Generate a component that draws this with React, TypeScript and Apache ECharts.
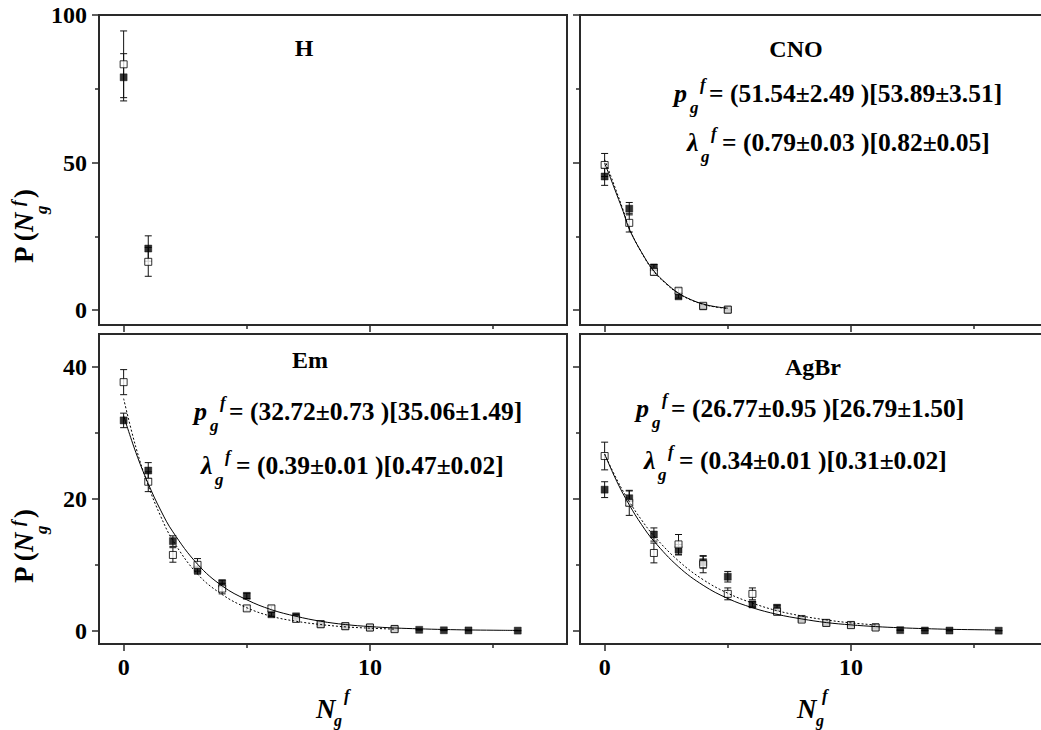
import React, { useEffect, useRef } from "react";
import * as echarts from "echarts";

const FONT = '"Liberation Serif", "Times New Roman", Times, serif';

// ---------- H ----------
const hX = [0, 1];
const hFilled = [78.9, 20.9];
const hFilledErr = [8.0, 4.3];
const hOpen = [83.3, 16.4];
const hOpenErr = [11.3, 4.9];

// ---------- CNO ----------
const cnoX = [0, 1, 2, 3, 4, 5];
const cnoFilled = [45.3, 34.4, 14.5, 4.7, 1.3, 0.2];
const cnoFilledErr = [3.0, 2.1, 1.0, 0.6, 0.3, 0.1];
const cnoOpen = [49.2, 29.6, 13.0, 6.6, 1.5, 0.2];
const cnoOpenErr = [3.9, 3.1, 1.1, 0.8, 0.3, 0.1];
const cnoFitX = [0, 0.25, 0.5, 0.75, 1, 1.5, 2, 2.5, 3, 3.5, 4, 4.5, 5];
const cnoFitSolid = [49.8, 44.5, 39.0, 33.5, 27.5, 19.6, 13.3, 9.1, 5.8, 3.6, 2.1, 1.2, 0.7];
const cnoFitDotted = [51.0, 45.5, 39.8, 34.0, 27.8, 19.5, 13.1, 8.9, 5.6, 3.5, 2.0, 1.1, 0.6];

// ---------- Em ----------
const filledX = [0, 1, 2, 3, 4, 5, 6, 7, 8, 9, 10, 11, 12, 13, 14, 16];
const openX = [0, 1, 2, 3, 4, 5, 6, 7, 8, 9, 10, 11];
const fitSolidX = [0, 0.5, 1, 1.5, 2, 3, 4, 5, 6, 7, 8, 9, 10, 11, 12, 13, 14, 15, 16];
const fitDottedX = [0, 0.5, 1, 1.5, 2, 3, 4, 5, 6, 7, 8, 9, 10, 11];

const emFilled = [31.9, 24.3, 13.6, 9.2, 7.2, 5.3, 2.5, 2.2, 1.0, 0.7, 0.5, 0.3, 0.15, 0.08, 0.06, 0.03];
const emFilledErr = [1.1, 1.2, 0.8, 0.6, 0.5, 0.4, 0.3, 0.3, 0.2, 0.2, 0.1, 0.1, 0.05, 0.05, 0.05, 0.03];
const emOpen = [37.7, 22.6, 11.5, 10.0, 6.4, 3.4, 3.4, 1.8, 1.0, 0.7, 0.5, 0.25];
const emOpenErr = [1.9, 1.5, 1.1, 0.95, 0.8, 0.4, 0.4, 0.3, 0.2, 0.2, 0.1, 0.1];
const emFitSolid = [32.6, 27.0, 22.3, 18.3, 15.0, 10.1, 6.8, 4.7, 3.2, 2.2, 1.45, 0.95, 0.64, 0.43, 0.3, 0.2, 0.13, 0.09, 0.06];
const emFitDotted = [35.2, 27.8, 22.0, 17.4, 13.7, 8.6, 5.5, 3.5, 2.2, 1.45, 0.95, 0.6, 0.4, 0.25];

// ---------- AgBr ----------
const agFilled = [21.4, 20.1, 14.6, 12.3, 10.4, 8.2, 4.0, 3.5, 1.8, 1.2, 0.9, 0.55, 0.1, 0.05, 0.04, 0.02];
const agFilledErr = [1.2, 1.1, 1.0, 0.8, 0.9, 0.8, 0.4, 0.4, 0.2, 0.2, 0.1, 0.1, 0.05, 0.05, 0.05, 0.02];
const agOpen = [26.5, 19.4, 11.8, 13.1, 10.1, 5.6, 5.6, 2.9, 1.7, 1.2, 0.86, 0.5];
const agOpenErr = [2.1, 1.9, 1.5, 1.5, 1.3, 0.9, 0.9, 0.5, 0.3, 0.3, 0.2, 0.15];
const agFitSolid = [26.8, 22.6, 19.1, 16.1, 13.6, 9.7, 6.9, 4.9, 3.5, 2.5, 1.8, 1.25, 0.9, 0.64, 0.46, 0.33, 0.23, 0.17, 0.12];
const agFitDotted = [26.8, 22.9, 19.6, 16.8, 14.4, 10.6, 7.75, 5.7, 4.2, 3.05, 2.25, 1.65, 1.2, 0.89];

// ---------- axes / labels ----------
const xMajor = [0, 10];
const xMinor = [5, 15];
const yTopMajor = [0, 50, 100];
const yTopMinor = [25, 75];
const yBotMajor = [0, 20, 40];
const yBotMinor = [10, 30];
const panelNames = ["H", "CNO", "Em", "AgBr"];
const cnoP = "= (51.54±2.49 )[53.89±3.51]";
const cnoL = "= (0.79±0.03 )[0.82±0.05]";
const emP = "= (32.72±0.73 )[35.06±1.49]";
const emL = "= (0.39±0.01 )[0.47±0.02]";
const agP = "= (26.77±0.95 )[26.79±1.50]";
const agL = "= (0.34±0.01 )[0.31±0.02]";

const FRAME = "#2a2a2a";
const TICK_FONT = 24;
const X_MIN = -1;
const X_MAX = 18;
const Y_TOP = [-5, 100];
const Y_BOT = [-2, 45];

const pairs = (xs: number[], ys: number[]) => xs.map((x, i) => [x, ys[i]]);
const triples = (xs: number[], ys: number[], es: number[]) => xs.map((x, i) => [x, ys[i], es[i]]);

function xAxes(gi: number) {
  const common = {
    type: "value",
    gridIndex: gi,
    min: X_MIN,
    max: X_MAX,
    position: "bottom",
    axisLine: { show: false, onZero: false },
    splitLine: { show: false },
    axisLabel: { show: false },
  };
  return [
    { ...common, axisTick: { show: true, inside: false, length: 7, customValues: xMajor, lineStyle: { color: FRAME, width: 1.5 } } },
    { ...common, axisTick: { show: true, inside: false, length: 4, customValues: xMinor, lineStyle: { color: FRAME, width: 1.5 } } },
  ];
}

function yAxes(gi: number, top: boolean) {
  const ext = top ? Y_TOP : Y_BOT;
  const common = {
    type: "value",
    gridIndex: gi,
    min: ext[0],
    max: ext[1],
    position: "left",
    axisLine: { show: false, onZero: false },
    splitLine: { show: false },
    axisLabel: { show: false },
  };
  const major = top ? yTopMajor : yBotMajor;
  const minor = top ? yTopMinor : yBotMinor;
  return [
    { ...common, axisTick: { show: true, inside: false, length: 7, customValues: major, lineStyle: { color: FRAME, width: 1.5 } } },
    { ...common, axisTick: { show: true, inside: false, length: 4, customValues: minor, lineStyle: { color: FRAME, width: 1.5 } } },
  ];
}

function errSeries(gi: number, data: number[][]) {
  return {
    type: "custom",
    xAxisIndex: 2 * gi,
    yAxisIndex: 2 * gi,
    data,
    encode: { x: 0, y: 1 },
    silent: true,
    renderItem: (_params: any, api: any) => {
      const x = api.value(0);
      const y = api.value(1);
      const e = api.value(2);
      const t = api.coord([x, y + e]);
      const b = api.coord([x, y - e]);
      const hw = 3.5;
      const st = { stroke: "#111", lineWidth: 1 };
      return {
        type: "group",
        children: [
          { type: "line", shape: { x1: t[0], y1: t[1], x2: b[0], y2: b[1] }, style: st },
          { type: "line", shape: { x1: t[0] - hw, y1: t[1], x2: t[0] + hw, y2: t[1] }, style: st },
          { type: "line", shape: { x1: b[0] - hw, y1: b[1], x2: b[0] + hw, y2: b[1] }, style: st },
        ],
      };
    },
  };
}

function scatter(gi: number, data: number[][], open: boolean) {
  return {
    type: "scatter",
    xAxisIndex: 2 * gi,
    yAxisIndex: 2 * gi,
    data,
    symbol: "rect",
    symbolSize: 7,
    silent: true,
    itemStyle: open
      ? { color: "#fff", borderColor: "#000", borderWidth: 1 }
      : { color: "#000", borderColor: "#000", borderWidth: 0.5 },
  };
}

function fitLine(gi: number, data: number[][], dotted: boolean) {
  return {
    type: "line",
    xAxisIndex: 2 * gi,
    yAxisIndex: 2 * gi,
    data,
    showSymbol: false,
    symbol: "none",
    smooth: 0.4,
    silent: true,
    lineStyle: { color: "#000", width: 1, type: dotted ? [2, 2] : "solid" },
  };
}

function txt(text: string, x: number, y: number, size: number, italic = false, align = "left", rot = 0) {
  return {
    type: "text",
    x,
    y,
    rotation: rot,
    silent: true,
    style: {
      text,
      fontFamily: FONT,
      fontSize: size,
      fontWeight: "bold",
      fontStyle: italic ? "italic" : "normal",
      fill: "#000",
      align,
      textAlign: align,
      verticalAlign: "middle",
      textVerticalAlign: "middle",
    },
  };
}

function formula(sym: string, eqX: number, y: number, rest: string) {
  const sx = eqX - 35;
  const isP = sym === "p";
  return [
    txt(sym, sx, y, 26, true),
    txt("g", sx + (isP ? 16 : 14), y + 14, 17, true),
    txt("f", sx + (isP ? 26 : 24), y - 9, 17, true),
    txt(rest, eqX, y, 25.5, false),
  ];
}

function yTitle(dy: number) {
  const R = Math.PI / 2;
  return [
    txt("P (", 24, 263 + dy, 27, false, "left", R),
    txt("N", 24, 232 + dy, 27, true, "left", R),
    txt("g", 41, 214 + dy, 17, true, "left", R),
    txt("f", 17, 206 + dy, 17, true, "left", R),
    txt(")", 24, 198 + dy, 27, false, "left", R),
  ];
}

function xTitle(nx: number, gx: number, fx: number) {
  return [txt("N", nx, 709, 27, true), txt("g", gx, 720, 16, true), txt("f", fx, 695, 17, true)];
}

export default function App() {
  const ref = useRef<HTMLDivElement>(null);

  useEffect(() => {
    if (!ref.current) return;
    const chart = echarts.init(ref.current, undefined, { renderer: "svg" });

    const gridBase = {
      show: true,
      borderColor: FRAME,
      borderWidth: 2,
      backgroundColor: "transparent",
      containLabel: false,
      outerBoundsMode: "none",
    };
    const grids = [
      { left: 99, top: 15, width: 468, height: 310 },
      { left: 580, top: 15, width: 468, height: 310 },
      { left: 99, top: 334, width: 468, height: 310 },
      { left: 580, top: 334, width: 468, height: 310 },
    ].map((g) => ({ ...gridBase, ...g }));

    const xAxis = [...xAxes(0), ...xAxes(1), ...xAxes(2), ...xAxes(3)];
    const yAxis = [...yAxes(0, true), ...yAxes(1, true), ...yAxes(2, false), ...yAxes(3, false)];

    const series: any[] = [
      errSeries(0, triples(hX, hFilled, hFilledErr)),
      errSeries(0, triples(hX, hOpen, hOpenErr)),
      scatter(0, pairs(hX, hFilled), false),
      scatter(0, pairs(hX, hOpen), true),
      fitLine(1, pairs(cnoFitX, cnoFitDotted), true),
      fitLine(1, pairs(cnoFitX, cnoFitSolid), false),
      errSeries(1, triples(cnoX, cnoFilled, cnoFilledErr)),
      errSeries(1, triples(cnoX, cnoOpen, cnoOpenErr)),
      scatter(1, pairs(cnoX, cnoFilled), false),
      scatter(1, pairs(cnoX, cnoOpen), true),
      fitLine(2, pairs(fitDottedX, emFitDotted), true),
      fitLine(2, pairs(fitSolidX, emFitSolid), false),
      errSeries(2, triples(filledX, emFilled, emFilledErr)),
      errSeries(2, triples(openX, emOpen, emOpenErr)),
      scatter(2, pairs(filledX, emFilled), false),
      scatter(2, pairs(openX, emOpen), true),
      fitLine(3, pairs(fitDottedX, agFitDotted), true),
      fitLine(3, pairs(fitSolidX, agFitSolid), false),
      errSeries(3, triples(filledX, agFilled, agFilledErr)),
      errSeries(3, triples(openX, agOpen, agOpenErr)),
      scatter(3, pairs(filledX, agFilled), false),
      scatter(3, pairs(openX, agOpen), true),
    ];

    const elements: any[] = [
      txt(panelNames[0], 304, 48, 24, false, "center"),
      txt(panelNames[1], 796, 49, 24, false, "center"),
      txt(panelNames[2], 310, 360, 24, false, "center"),
      txt(panelNames[3], 813, 367, 24, false, "center"),
      ...formula("p", 709, 93, cnoP),
      ...formula("λ", 722, 142, cnoL),
      ...formula("p", 229, 411, emP),
      ...formula("λ", 236, 465, emL),
      ...formula("p", 671, 408, agP),
      ...formula("λ", 679, 460, agL),
      ...yTitle(0),
      ...yTitle(320),
      ...xTitle(316, 334, 344),
      ...xTitle(797, 816, 822),
    ];

    chart.setOption({
      animation: false,
      backgroundColor: "#fff",
      textStyle: { fontFamily: FONT },
      grid: grids,
      xAxis,
      yAxis,
      series,
      graphic: { elements },
    });

    // Tick labels placed through the axes' own scales.
    const tickLabels: any[] = [];
    const yLabelPanels: [number, number[]][] = [
      [0, yTopMajor],
      [2, yBotMajor],
    ];
    yLabelPanels.forEach(([gi, vals]) => {
      vals.forEach((v) => {
        const p = chart.convertToPixel({ xAxisIndex: 2 * gi, yAxisIndex: 2 * gi } as any, [X_MIN, v]) as number[];
        tickLabels.push(txt(String(v), p[0] - 12, p[1], TICK_FONT, false, "right"));
      });
    });
    [2, 3].forEach((gi) => {
      xMajor.forEach((v) => {
        const p = chart.convertToPixel({ xAxisIndex: 2 * gi, yAxisIndex: 2 * gi } as any, [v, Y_BOT[0]]) as number[];
        tickLabels.push(txt(String(v), p[0], p[1] + 23, TICK_FONT, false, "center"));
      });
    });

    chart.setOption({ graphic: { elements: [...elements, ...tickLabels] } });

    return () => {
      chart.dispose();
    };
  }, []);

  return (
    <div
      ref={ref}
      style={{ position: "absolute", left: 0, top: 0, width: 1041, height: 730, background: "#fff" }}
    />
  );
}
